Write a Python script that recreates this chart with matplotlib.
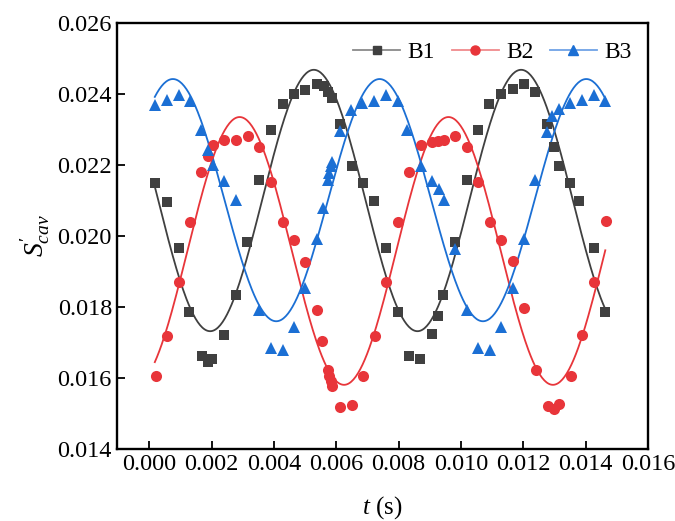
import numpy as np
import matplotlib
matplotlib.use("Agg")
import matplotlib.pyplot as plt
from matplotlib.lines import Line2D

plt.rcParams['font.family'] = ['Liberation Serif', 'DejaVu Serif']
plt.rcParams['mathtext.fontset'] = 'custom'
plt.rcParams['mathtext.rm'] = 'Liberation Serif'
plt.rcParams['mathtext.it'] = 'Liberation Serif:italic'

# ---- data ----
b1_t = [0.00018, 0.00058, 0.00094, 0.00128, 0.00168, 0.00188, 0.00203, 0.00241, 0.00279, 0.00314,
        0.00352, 0.00390, 0.00428, 0.00463, 0.00501, 0.00538, 0.00560, 0.00575, 0.00585, 0.00612,
        0.00650, 0.00686, 0.00722, 0.00760, 0.00797, 0.00834, 0.00870, 0.00908, 0.00925, 0.00943,
        0.00981, 0.01019, 0.01054, 0.01091, 0.01128, 0.01166, 0.01203, 0.01238, 0.01276, 0.01299,
        0.01316, 0.01350, 0.01378, 0.01426, 0.01463]
b1_s = [0.02148, 0.02096, 0.01965, 0.01786, 0.01661, 0.01645, 0.01655, 0.01722, 0.01833, 0.01983,
        0.02157, 0.02298, 0.02373, 0.02400, 0.02412, 0.02427, 0.02422, 0.02406, 0.02390, 0.02314,
        0.02198, 0.02148, 0.02098, 0.01965, 0.01786, 0.01661, 0.01655, 0.01724, 0.01774, 0.01833,
        0.01983, 0.02157, 0.02298, 0.02373, 0.02400, 0.02415, 0.02427, 0.02406, 0.02316, 0.02252,
        0.02198, 0.02149, 0.02098, 0.01965, 0.01786]

b2_t = [0.00021, 0.00058, 0.00094, 0.00131, 0.00167, 0.00188, 0.00204, 0.00241, 0.00279, 0.00316,
        0.00353, 0.00390, 0.00428, 0.00463, 0.00501, 0.00538, 0.00554, 0.00572, 0.00578, 0.00582,
        0.00586, 0.00612, 0.00650, 0.00687, 0.00724, 0.00761, 0.00797, 0.00834, 0.00872, 0.00908,
        0.00926, 0.00945, 0.00982, 0.01018, 0.01055, 0.01092, 0.01130, 0.01166, 0.01203, 0.01241,
        0.01280, 0.01297, 0.01316, 0.01352, 0.01389, 0.01426, 0.01464]
b2_s = [0.01605, 0.01719, 0.01870, 0.02039, 0.02180, 0.02226, 0.02256, 0.02269, 0.02269, 0.02281,
        0.02252, 0.02153, 0.02039, 0.01988, 0.01927, 0.01792, 0.01704, 0.01623, 0.01605, 0.01591,
        0.01577, 0.01518, 0.01525, 0.01605, 0.01719, 0.01870, 0.02039, 0.02180, 0.02255, 0.02265,
        0.02268, 0.02269, 0.02281, 0.02252, 0.02153, 0.02040, 0.01989, 0.01929, 0.01796, 0.01623,
        0.01522, 0.01513, 0.01528, 0.01606, 0.01722, 0.01871, 0.02041]

b3_t = [0.00018, 0.00058, 0.00094, 0.00131, 0.00167, 0.00188, 0.00204, 0.00241, 0.00279, 0.00353,
        0.00390, 0.00428, 0.00463, 0.00501, 0.00538, 0.00557, 0.00574, 0.00578, 0.00582, 0.00586,
        0.00612, 0.00647, 0.00682, 0.00721, 0.00761, 0.00797, 0.00828, 0.00871, 0.00906, 0.00928,
        0.00946, 0.00981, 0.01018, 0.01055, 0.01092, 0.01128, 0.01166, 0.01203, 0.01239, 0.01275,
        0.01292, 0.01316, 0.01351, 0.01389, 0.01426, 0.01463]
b3_s = [0.02370, 0.02384, 0.02396, 0.02379, 0.02298, 0.02241, 0.02201, 0.02154, 0.02100, 0.01791,
        0.01685, 0.01678, 0.01744, 0.01853, 0.01992, 0.02078, 0.02159, 0.02177, 0.02196, 0.02208,
        0.02295, 0.02354, 0.02374, 0.02381, 0.02396, 0.02379, 0.02299, 0.02197, 0.02155, 0.02133,
        0.02101, 0.01963, 0.01791, 0.01685, 0.01678, 0.01744, 0.01853, 0.01992, 0.02158, 0.02293,
        0.02337, 0.02357, 0.02374, 0.02384, 0.02396, 0.02379]

# sine-fit parameters: (offset, amplitude, period, time of peak)
b1_fit = (0.02100, 0.00368, 0.00665, 0.00528)
b2_fit = (0.01958, 0.00377, 0.00670, 0.00290)
b3_fit = (0.02101, 0.00341, 0.00663, 0.00076)
fit_range = (0.00018, 0.01463)

labels = ['B1', 'B2', 'B3']
x_ticks = [0.000, 0.002, 0.004, 0.006, 0.008, 0.010, 0.012, 0.014, 0.016]
y_ticks = [0.014, 0.016, 0.018, 0.020, 0.022, 0.024, 0.026]

# ---- styling ----
dark = ['#404040', '#e8353a', '#1b6fd4']
light = ['#8a8a8a', '#f08a8c', '#6fa3e6']
markers = ['s', 'o', '^']
msizes = [7, 8, 9]

fig = plt.figure(figsize=(6.75, 5.21), dpi=100)
ax = fig.add_axes([0.173, 0.138, 0.787, 0.818])

tt = np.linspace(fit_range[0], fit_range[1], 400)
series = [(b1_t, b1_s, b1_fit), (b2_t, b2_s, b2_fit), (b3_t, b3_s, b3_fit)]
for i, (t, s, fit) in enumerate(series):
    c, a, p, tp = fit
    ax.plot(tt, c + a * np.cos(2 * np.pi * (tt - tp) / p), color=dark[i], lw=1.3, zorder=2)
    ax.plot(t, s, linestyle='none', marker=markers[i], ms=msizes[i], color=dark[i],
            markeredgewidth=0, zorder=3)

handles = [Line2D([], [], color=light[i], lw=1.3, marker=markers[i], ms=msizes[i] - 1.5,
                  markerfacecolor=dark[i], markeredgecolor=dark[i]) for i in range(3)]
ax.legend(handles, labels, loc='upper right', ncol=3, frameon=False, fontsize=17,
          handlelength=2.0, handletextpad=0.3, columnspacing=0.7,
          bbox_to_anchor=(1.0, 0.995), borderaxespad=0.3)

ax.set_xlim(-0.00104, 0.016)
ax.set_ylim(0.014, 0.026)
ax.set_xticks(x_ticks)
ax.set_yticks(y_ticks)
ax.set_xticklabels([f'{v:.3f}' for v in x_ticks])
ax.set_yticklabels([f'{v:.3f}' for v in y_ticks])
ax.tick_params(direction='in', length=6, width=1.3, labelsize=17.5, top=False, right=False)
for sp in ax.spines.values():
    sp.set_linewidth(1.7)

ax.set_xlabel(r'$t$ (s)', fontsize=18, labelpad=14)
ax.set_ylabel(r'$S^{\prime}_{cav}$', fontsize=20, labelpad=4)

fig.savefig('out.png', dpi=100)
